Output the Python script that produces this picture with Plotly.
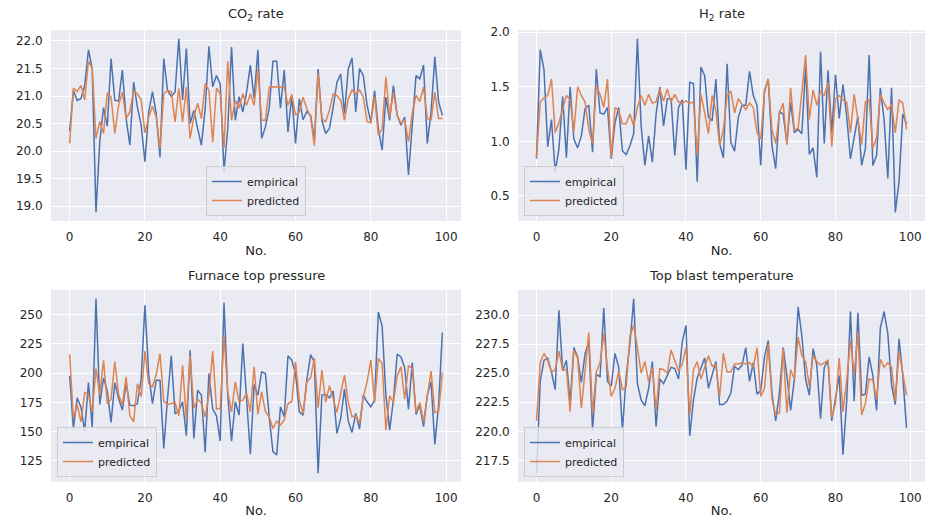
import plotly.graph_objects as go

# sample index
sample_no = list(range(100))

co2_empirical = [20.36, 21.10, 20.92, 20.95, 21.19, 21.84, 21.49, 18.89, 20.17, 20.79,
                 20.45, 21.68, 20.92, 20.91, 21.47, 20.59, 20.11, 21.25, 20.80, 20.47,
                 19.81, 20.71, 21.08, 20.68, 19.89, 21.68, 21.10, 20.99, 21.07, 22.04,
                 20.93, 21.86, 20.50, 20.74, 20.41, 20.11, 20.77, 21.90, 21.17, 21.37,
                 21.22, 19.63, 20.41, 21.89, 20.56, 20.99, 20.71, 21.07, 21.56, 20.95,
                 21.84, 20.23, 20.44, 20.77, 21.63, 21.63, 20.78, 21.47, 20.35, 21.01,
                 20.14, 20.95, 20.57, 20.72, 20.65, 20.20, 21.49, 20.56, 20.32, 20.41,
                 20.80, 21.25, 21.40, 20.68, 21.49, 21.69, 20.71, 21.50, 21.37, 20.83,
                 20.53, 21.10, 20.41, 20.02, 20.98, 20.56, 21.19, 20.65, 20.47, 20.62,
                 19.57, 20.47, 21.37, 21.31, 21.56, 20.14, 20.71, 21.71, 20.89, 20.65]
co2_predicted = [20.14, 21.14, 21.08, 21.19, 20.93, 21.63, 21.50, 20.23, 20.54, 20.32,
                 21.06, 20.98, 20.32, 20.83, 21.07, 20.59, 20.71, 21.10, 21.04, 20.93,
                 20.33, 20.62, 20.81, 20.62, 20.05, 21.04, 21.10, 21.08, 20.53, 21.14,
                 20.53, 21.16, 20.23, 20.62, 20.87, 20.59, 21.23, 21.10, 20.16, 21.14,
                 21.04, 20.06, 21.63, 20.56, 20.92, 20.78, 21.04, 20.83, 21.04, 20.83,
                 21.49, 20.56, 20.56, 21.16, 21.17, 21.17, 21.17, 21.16, 20.83, 21.03,
                 20.65, 20.71, 20.98, 20.77, 20.62, 20.10, 21.41, 20.59, 20.53, 20.74,
                 21.04, 21.01, 20.92, 20.56, 20.95, 21.11, 21.04, 21.11, 20.98, 20.54,
                 20.51, 20.99, 20.29, 20.40, 21.35, 20.62, 21.07, 20.65, 20.51, 20.57,
                 20.17, 20.69, 21.01, 20.90, 21.16, 20.59, 20.57, 21.07, 20.59, 20.59]

h2_empirical = [0.84, 1.84, 1.66, 0.95, 1.20, 0.72, 0.93, 1.41, 0.85, 1.50,
                1.02, 0.94, 1.05, 1.30, 1.33, 0.90, 1.66, 1.26, 1.25, 1.31,
                0.84, 1.17, 1.31, 0.91, 0.88, 0.96, 1.07, 1.94, 1.14, 0.78,
                1.05, 0.81, 1.25, 1.50, 1.14, 1.39, 1.39, 0.87, 1.31, 1.38,
                0.74, 1.54, 1.53, 0.63, 1.68, 1.60, 1.22, 1.19, 1.57, 0.98,
                0.85, 1.71, 0.99, 0.91, 1.22, 1.33, 1.33, 1.64, 1.42, 1.33,
                0.78, 1.46, 1.57, 0.96, 0.75, 1.27, 1.25, 0.98, 1.36, 1.08,
                1.11, 1.07, 1.69, 0.88, 0.94, 0.67, 1.82, 0.98, 1.65, 1.08,
                1.61, 1.21, 1.52, 1.23, 0.84, 1.05, 1.23, 0.78, 0.93, 1.79,
                0.78, 0.87, 1.49, 1.20, 0.66, 1.49, 0.35, 0.63, 1.25, 1.16]
h2_predicted = [0.85, 1.36, 1.40, 1.42, 1.57, 1.08, 1.17, 1.29, 1.42, 1.38,
                1.09, 1.50, 1.42, 1.36, 1.11, 0.98, 1.51, 1.43, 1.31, 1.57,
                0.85, 1.31, 1.28, 1.16, 1.16, 1.25, 1.14, 1.31, 1.42, 1.33,
                1.43, 1.35, 1.36, 1.48, 1.37, 1.48, 1.36, 1.43, 1.36, 1.35,
                1.37, 1.35, 1.36, 0.88, 1.43, 1.26, 1.07, 1.42, 1.28, 0.96,
                1.11, 1.42, 1.46, 1.26, 1.39, 1.34, 1.29, 1.35, 1.31, 1.08,
                1.02, 1.45, 1.57, 1.11, 0.98, 1.26, 1.35, 0.97, 1.49, 1.10,
                1.12, 1.45, 1.79, 1.20, 1.47, 1.33, 1.46, 1.42, 1.54, 0.95,
                1.39, 1.42, 1.38, 1.36, 1.08, 1.43, 1.21, 0.97, 1.36, 1.38,
                0.94, 1.03, 1.43, 1.35, 1.29, 1.34, 1.08, 1.38, 1.35, 1.11]

pressure_empirical = [197.7, 152.8, 179.0, 171.0, 150.6, 192.0, 154.0, 263.6, 173.3, 196.0,
                      184.7, 158.0, 192.0, 178.4, 168.5, 191.2, 172.7, 172.2, 174.0, 195.0,
                      258.0, 199.0, 174.0, 194.0, 194.0, 135.8, 178.4, 214.8, 165.6, 167.6,
                      175.6, 146.6, 219.6, 144.3, 185.5, 181.3, 132.4, 199.7, 169.3, 163.6,
                      142.0, 260.2, 181.3, 142.0, 175.6, 164.2, 225.3, 178.4, 130.7, 190.3,
                      181.3, 201.1, 199.7, 162.8, 133.0, 130.1, 171.3, 162.8, 214.8, 211.1,
                      199.7, 167.0, 164.2, 194.0, 215.9, 209.1, 114.5, 181.3, 181.8, 179.0,
                      184.7, 148.6, 161.4, 186.4, 159.0, 149.4, 165.6, 152.3, 181.3, 175.6,
                      171.3, 177.0, 252.3, 240.3, 181.3, 151.4, 177.0, 216.2, 213.9, 204.5,
                      169.3, 209.1, 164.8, 172.7, 154.3, 181.3, 192.6, 139.2, 172.7, 234.7]
pressure_predicted = [215.9, 161.4, 173.3, 158.5, 183.5, 181.3, 167.0, 204.0, 181.3, 211.0,
                      174.0, 177.8, 210.0, 181.8, 172.7, 196.9, 163.6, 158.5, 191.0, 180.0,
                      218.8, 191.0, 188.4, 198.9, 216.8, 176.0, 173.3, 174.0, 175.0, 163.6,
                      206.8, 161.0, 214.8, 170.0, 178.0, 174.0, 162.8, 181.3, 218.8, 169.3,
                      170.0, 231.8, 184.0, 167.0, 192.6, 175.6, 177.0, 182.7, 167.0, 205.4,
                      164.8, 184.0, 167.0, 162.8, 152.8, 159.0, 155.7, 160.0, 174.0, 175.6,
                      209.7, 177.0, 165.6, 192.6, 196.0, 213.0, 170.5, 202.6, 175.0, 189.2,
                      178.4, 166.5, 182.7, 198.3, 175.0, 162.8, 163.6, 157.1, 179.8, 192.6,
                      211.1, 175.0, 212.5, 208.2, 151.4, 180.7, 175.0, 197.7, 205.4, 177.8,
                      206.3, 204.0, 166.5, 175.0, 158.5, 181.3, 201.7, 166.5, 167.0, 200.6]

temp_empirical = [216.4, 224.3, 226.1, 226.3, 225.1, 223.6, 230.4, 225.2, 226.1, 222.5,
                  227.2, 226.4, 224.2, 226.7, 227.7, 220.1, 224.9, 224.7, 230.6, 224.3,
                  223.9, 226.7, 225.5, 220.1, 224.8, 227.5, 231.4, 224.1, 222.7, 222.2,
                  223.7, 226.0, 220.4, 224.5, 224.1, 224.8, 225.5, 225.4, 224.5, 227.7,
                  229.1, 219.6, 222.7, 224.6, 225.5, 226.3, 223.7, 224.8, 226.0, 222.3,
                  222.3, 222.6, 223.3, 225.6, 225.3, 225.7, 227.2, 224.3, 225.9, 223.2,
                  223.5, 226.4, 227.8, 223.3, 220.9, 223.3, 227.2, 224.8, 221.8, 224.5,
                  230.7, 228.2, 224.5, 223.1, 227.1, 225.7, 221.1, 225.5, 226.1, 220.9,
                  222.7, 224.8, 218.0, 222.6, 230.3, 222.6, 230.2, 223.1, 223.2, 226.4,
                  224.8, 221.8, 228.9, 230.3, 228.4, 224.0, 222.3, 227.95, 224.8, 220.3]
temp_predicted = [220.9, 225.9, 226.7, 226.1, 225.1, 225.3, 226.9, 225.3, 225.3, 221.7,
                  227.0, 226.3, 222.0, 225.2, 228.5, 221.5, 225.1, 225.9, 228.4, 225.4,
                  223.0, 223.7, 225.2, 223.6, 223.8, 228.2, 229.1, 227.2, 225.0, 226.0,
                  224.3, 225.5, 221.8, 225.4, 225.3, 225.0, 227.0, 226.1, 225.2, 225.8,
                  227.2, 221.4, 225.3, 226.0, 224.5, 225.5, 226.5, 225.6, 225.7, 223.0,
                  226.7, 225.1, 225.1, 225.8, 225.8, 225.9, 225.8, 225.9, 225.5, 227.2,
                  223.0, 223.7, 227.5, 222.8, 221.4, 221.6, 227.1, 221.6, 225.3, 224.5,
                  228.1, 226.5, 226.0, 223.9, 226.5, 226.0, 225.7, 225.9, 226.1, 221.2,
                  222.4, 226.3, 221.7, 224.4, 227.8, 224.9, 228.5, 221.4, 222.4, 224.5,
                  224.4, 222.8, 226.2, 225.5, 225.9, 225.5, 222.6, 226.9, 225.1, 223.1]

panel_titles = ["CO<sub>2</sub> rate", "H<sub>2</sub> rate",
                "Furnace top pressure", "Top blast temperature"]
series_names = ["empirical", "predicted"]
x_ticks = [0, 20, 40, 60, 80, 100]

BLUE = "#4C72B0"
ORANGE = "#DD8452"
FACE = "#EAEAF2"
TEXT = "#262626"
FONT = "DejaVu Sans"

W, H = 927, 518
ML, MR, MT, MB = 51, 2, 30, 36
PW, PH = W - ML - MR, H - MT - MB

# axes boxes in pixels: (left, right, top, bottom)
boxes = [(51, 461, 30, 221), (518, 925, 30, 221),
         (51, 461, 290, 482), (518, 925, 290, 482)]
y_steps = [0.5, 0.5, 25, 2.5]
y_formats = [".1f", ".1f", "d", ".1f"]
legend_anchor = ["center", "left", "left", "left"]

panels = [(co2_empirical, co2_predicted), (h2_empirical, h2_predicted),
          (pressure_empirical, pressure_predicted), (temp_empirical, temp_predicted)]


def padded(lo, hi, frac=0.05):
    span = hi - lo
    return [lo - frac * span, hi + frac * span]


fig = go.Figure()
layout = dict(
    width=W, height=H,
    margin=dict(l=ML, r=MR, t=MT, b=MB),
    paper_bgcolor="white", plot_bgcolor=FACE,
    font=dict(family=FONT, size=12, color=TEXT),
    annotations=[],
)

for k, (emp, pred) in enumerate(panels):
    left, right, top, bottom = boxes[k]
    xd = [(left - ML) / PW, (right - ML) / PW]
    yd = [(H - MB - bottom) / PH, (H - MB - top) / PH]
    n = "" if k == 0 else str(k + 1)
    leg = "legend" if k == 0 else f"legend{k + 1}"

    fig.add_trace(go.Scatter(x=sample_no, y=emp, mode="lines", name=series_names[0],
                             line=dict(color=BLUE, width=1.5),
                             xaxis=f"x{n}", yaxis=f"y{n}", legend=leg))
    fig.add_trace(go.Scatter(x=sample_no, y=pred, mode="lines", name=series_names[1],
                             line=dict(color=ORANGE, width=1.5),
                             xaxis=f"x{n}", yaxis=f"y{n}", legend=leg))

    xr = padded(min(sample_no), max(sample_no))
    yr = padded(min(emp + pred), max(emp + pred))

    layout[f"xaxis{n}"] = dict(
        domain=xd, anchor=f"y{n}", range=xr, tickvals=x_ticks,
        showgrid=True, gridcolor="white", gridwidth=1, zeroline=False,
        showline=False, ticks="outside", ticklen=5, tickcolor="rgba(0,0,0,0)",
        tickfont=dict(size=12, color=TEXT),
        title=dict(text="No.", font=dict(size=13, color=TEXT), standoff=2),
    )
    layout[f"yaxis{n}"] = dict(
        domain=yd, anchor=f"x{n}", range=yr, dtick=y_steps[k], tick0=0,
        tickformat=y_formats[k],
        showgrid=True, gridcolor="white", gridwidth=1, zeroline=False,
        showline=False, ticks="outside", ticklen=5, tickcolor="rgba(0,0,0,0)",
        tickfont=dict(size=12, color=TEXT),
    )
    layout["annotations"].append(dict(
        text=panel_titles[k], x=(xd[0] + xd[1]) / 2, y=yd[1],
        xref="paper", yref="paper", xanchor="center", yanchor="bottom",
        yshift=5, showarrow=False, font=dict(size=13, color=TEXT),
    ))

    if legend_anchor[k] == "center":
        lx, xanc = (xd[0] + xd[1]) / 2, "center"
    else:
        lx, xanc = xd[0] + 6 / PW, "left"
    layout[leg] = dict(
        x=lx, y=yd[0] + 5 / PH, xanchor=xanc, yanchor="bottom",
        bgcolor="rgba(234,234,242,0.8)", bordercolor="#CCCCCC", borderwidth=1,
        font=dict(size=11, color=TEXT), itemwidth=30, tracegroupgap=0,
    )

fig.update_layout(**layout)
fig.write_html("out.html")
